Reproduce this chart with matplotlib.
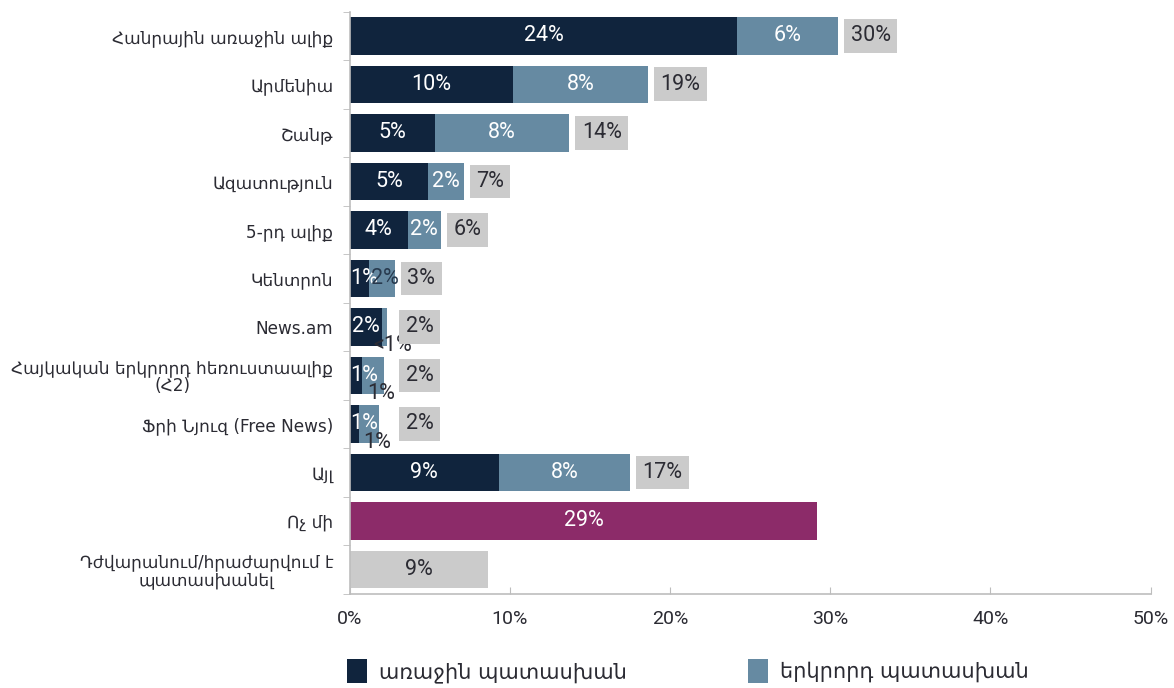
import numpy as np
import matplotlib
matplotlib.use('agg')
import matplotlib.pyplot as plt
from matplotlib.patches import Patch

categories = [
    'Հանրային առաջին ալիք',
    'Արմենիա',
    'Շանթ',
    'Ազատություն',
    '5-րդ ալիք',
    'Կենտրոն',
    'News.am',
    'Հայկական երկրորդ հեռուստաալիք\n(Հ2)',
    'Ֆրի Նյուզ (Free News)',
    'Այլ',
    'Ոչ մի',
    'Դժվարանում/հրաժարվում է\nպատասխանել',
]

# first / second answer, rows 0..9 (stacked)
first = [24.2, 10.2, 5.3, 4.9, 3.6, 1.2, 2.0, 0.75, 0.6, 9.3]
second = [6.3, 8.4, 8.4, 2.2, 2.1, 1.6, 0.3, 1.4, 1.2, 8.2]
first_labels = ['24%', '10%', '5%', '5%', '4%', '1%', '2%', '1%', '1%', '9%']
second_labels = ['6%', '8%', '8%', '2%', '2%', '2%', '<1%', '1%', '1%', '8%']
total_labels = ['30%', '19%', '14%', '7%', '6%', '3%', '2%', '2%', '2%', '17%']

none_value = 29.2
none_label = '29%'
dk_value = 8.6
dk_label = '9%'

legend_labels = ['առաջին պատասխան', 'երկրորդ պատասխան']

NAVY = '#10243d'
BLUE = '#668aa2'
GRAY = '#cbcbcb'
PURPLE = '#8c2b69'
TEXT = '#2b2b33'
AXIS = '#bdbdbd'

NUM_FONT = ['Roboto', 'DejaVu Sans']
NUM_SIZE = 15.5

plt.rcParams['font.family'] = ['DejaVu Sans']

fig = plt.figure(figsize=(11.74, 6.88), dpi=100)
ax = fig.add_axes([0.298, 0.137, 0.682, 0.846])

n = len(first)
y = np.arange(n)
bh = 0.77

ax.barh(y, first, height=bh, color=NAVY)
ax.barh(y, second, left=first, height=bh, color=BLUE)
ax.barh(n, none_value, height=bh, color=PURPLE)
ax.barh(n + 1, dk_value, height=bh, color=GRAY)

for i in range(n):
    # first answer label (left aligned when the segment is too narrow)
    if first[i] < 1.5:
        ax.text(0.02, i, first_labels[i], ha='left', va='center',
                color='white', fontsize=NUM_SIZE, family=NUM_FONT)
    else:
        ax.text(first[i] / 2, i, first_labels[i], ha='center', va='center',
                color='white', fontsize=NUM_SIZE, family=NUM_FONT)
    # second answer label
    xc = first[i] + second[i] / 2
    if second[i] < 1.5:
        ax.annotate(second_labels[i], xy=(xc, i), xytext=(6, -13),
                    textcoords='offset points', ha='center', va='center',
                    color=TEXT, fontsize=NUM_SIZE, family=NUM_FONT)
    elif second[i] < 2:
        ax.annotate(second_labels[i], xy=(xc, i), xytext=(2, 0),
                    textcoords='offset points', ha='center', va='center',
                    color='#27394d', fontsize=NUM_SIZE, family=NUM_FONT)
    else:
        ax.text(xc, i, second_labels[i], ha='center', va='center',
                color='white', fontsize=NUM_SIZE, family=NUM_FONT)
    # total box
    end = max(first[i] + second[i], 2.7)
    ax.annotate(total_labels[i], xy=(end, i), xytext=(9, 0),
                textcoords='offset points', ha='left', va='center',
                color=TEXT, fontsize=NUM_SIZE, family=NUM_FONT,
                bbox=dict(boxstyle='square,pad=0.3', fc=GRAY, ec='none'))

ax.text(none_value / 2, n, none_label, ha='center', va='center',
        color='white', fontsize=NUM_SIZE, family=NUM_FONT)
ax.text(dk_value / 2, n + 1, dk_label, ha='center', va='center',
        color=TEXT, fontsize=NUM_SIZE, family=NUM_FONT)

ax.set_xlim(0, 50)
ax.set_ylim(len(categories) - 0.5, -0.5)
ax.set_xticks(np.arange(0, 51, 10))
ax.set_xticklabels(['%d%%' % v for v in range(0, 51, 10)],
                   family=NUM_FONT, fontsize=14, color=TEXT)
ax.set_yticks(np.arange(len(categories)))
ax.set_yticklabels(categories, fontsize=12.2, color=TEXT, linespacing=0.95,
                   multialignment='center')
ax.set_yticks(np.arange(-0.5, len(categories), 1), minor=True)

ax.tick_params(axis='y', which='major', length=0, pad=12)
ax.tick_params(axis='y', which='minor', length=5, direction='out', color=AXIS)
ax.tick_params(axis='x', length=5, direction='in', color=AXIS, pad=12)

for s in ['top', 'right']:
    ax.spines[s].set_visible(False)
for s in ['left', 'bottom']:
    ax.spines[s].set_color(AXIS)
    ax.spines[s].set_linewidth(1.2)

handles = [Patch(facecolor=NAVY), Patch(facecolor=BLUE)]
fig.legend(handles, legend_labels, loc='lower center', bbox_to_anchor=(0.586, -0.02),
           ncol=2, frameon=False, fontsize=15, handlelength=0.95, handleheight=1.4,
           handletextpad=0.6, columnspacing=5.8, labelcolor=TEXT)

fig.savefig('out.png', dpi=100, facecolor='white')
